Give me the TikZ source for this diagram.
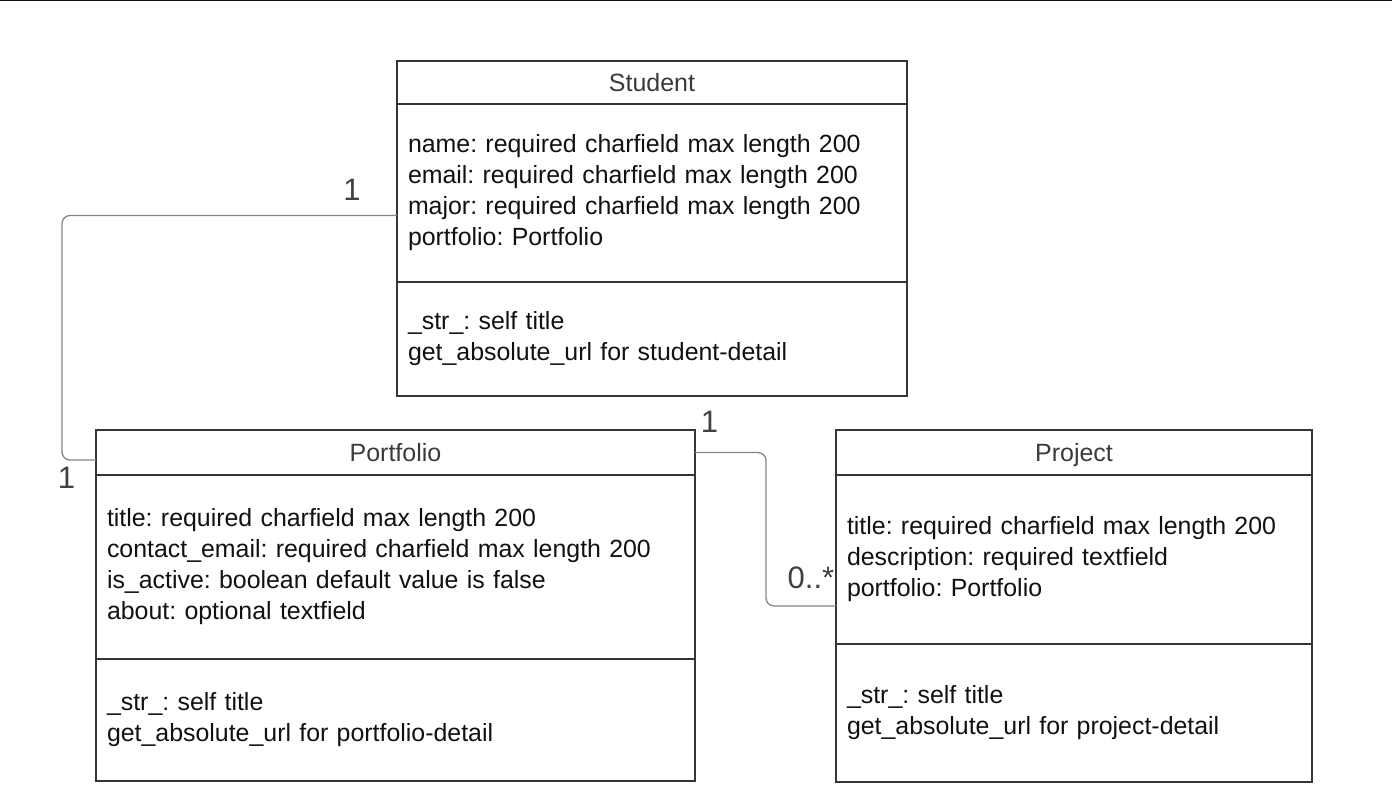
\documentclass[tikz,border=0pt]{standalone}
\usepackage{fontspec}
\setmainfont{Liberation Sans}
\frenchspacing
\usetikzlibrary{positioning,calc}

\definecolor{boxline}{HTML}{363636}
\definecolor{headtext}{HTML}{3A3A3A}
\definecolor{bodytext}{HTML}{111111}
\definecolor{linkgray}{HTML}{858585}
\definecolor{multgray}{HTML}{404040}

\begin{document}
\begin{tikzpicture}[x=1pt,y=-1pt,
  head/.style={draw=boxline, line width=1.6pt, outer sep=0pt, inner sep=0pt,
    text height=18pt, text depth=0pt,
    font=\fontsize{25}{30}\selectfont, text=headtext},
  part/.style={draw=boxline, line width=1.6pt, outer sep=0pt, inner xsep=11pt,
    inner ysep=0pt, align=left, font=\fontsize{24.9}{31}\selectfont, text=bodytext},
  assoc/.style={draw=linkgray, line width=1.3pt, rounded corners=8pt},
  mult/.style={font=\fontsize{31}{34}\selectfont, text=multgray, inner sep=0pt}]
\useasboundingbox (0,0) rectangle (1392,808);
\draw[line width=2.5pt, color=bodytext] (0,0) -- (1392,0);

% Student
\node[head, minimum width=510pt, minimum height=43pt, anchor=north west] (stu) at (397,61) {Student};
\node[part, below=0pt of stu, text width=488pt, minimum height=178pt] (stu-a)
  {name: required charfield max length 200\\email: required charfield max length 200\\
   major: required charfield max length 200\\portfolio: Portfolio};
\node[part, below=0pt of stu-a, text width=488pt, minimum height=114pt] (stu-m)
  {\_str\_: self title\\get\_absolute\_url for student-detail};

% Portfolio
\node[head, minimum width=599pt, minimum height=45pt, anchor=north west] (pf) at (96,430) {Portfolio};
\node[part, below=0pt of pf, text width=577pt, minimum height=184pt] (pf-a)
  {title: required charfield max length 200\\contact\_email: required charfield max length 200\\
   is\_active: boolean default value is false\\about: optional textfield};
\node[part, below=0pt of pf-a, text width=577pt, minimum height=122pt] (pf-m)
  {\_str\_: self title\\get\_absolute\_url for portfolio-detail};

% Project
\node[head, minimum width=476pt, minimum height=45pt, anchor=north west] (pj) at (836,430) {Project};
\node[part, below=0pt of pj, text width=454pt, minimum height=169pt] (pj-a)
  {title: required charfield max length 200\\description: required textfield\\portfolio: Portfolio};
\node[part, below=0pt of pj-a, text width=454pt, minimum height=138pt] (pj-m)
  {\_str\_: self title\\get\_absolute\_url for project-detail};

% associations
\draw[assoc] ($(stu-a.west)+(0,22.5)$) -- ++(-335,0) |- ($(pf.west)+(0,7.5)$);
\draw[assoc] (pf.east) -- ++(71,0) |- ($(pj-a.west)+(0,46.5)$);

\node[mult] at ($(stu-a.west)+(-45,-3)$) {1};
\node[mult] at ($(pf.west)+(-29.5,25.5)$) {1};
\node[mult] at ($(pf.east)+(14.5,-30.5)$) {1};
\node[mult] at ($(pj-a.west)+(-25,18.5)$) {0..*};
\end{tikzpicture}
\end{document}
